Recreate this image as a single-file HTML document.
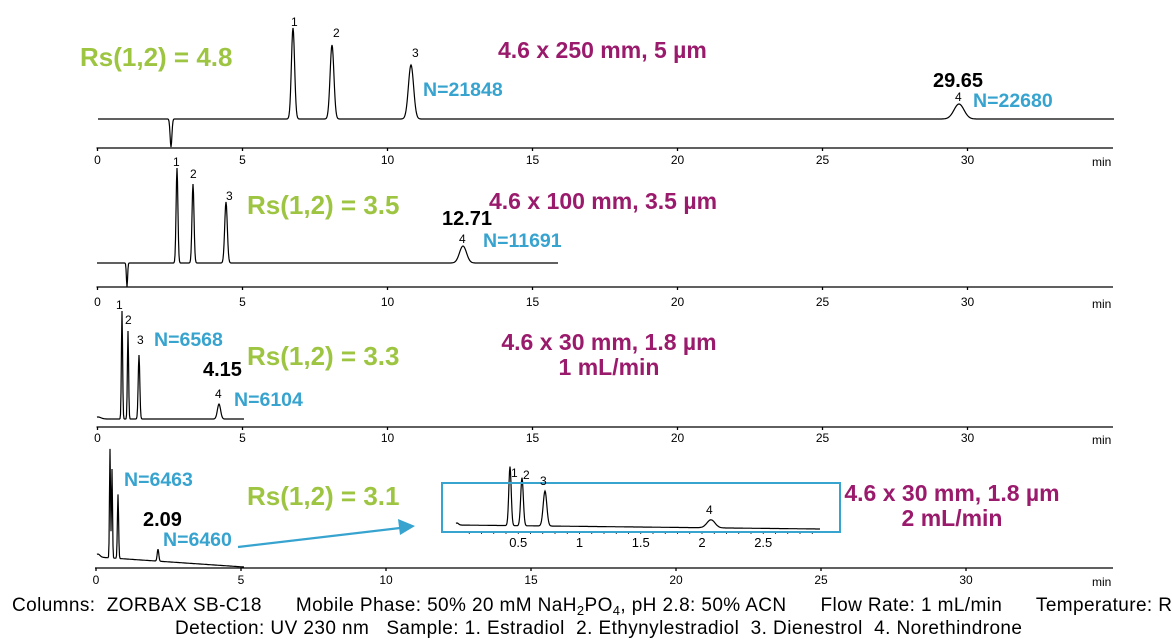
<!DOCTYPE html>
<html><head><meta charset="utf-8"><style>
html,body{margin:0;padding:0;background:#fff;}
svg{display:block;font-family:"Liberation Sans",Arial,sans-serif;}
.g{fill:#9dc542;font-weight:bold;font-size:26px}
.p{fill:#9a1a6c;font-weight:bold;font-size:23px}
.b{fill:#37a3cf;font-weight:bold;font-size:19.5px}
.k{fill:#000;font-weight:bold;font-size:20px}
.s{fill:#000;font-size:12px}
.t{fill:#000;font-size:12px}
.f{fill:#000;font-size:19px;white-space:pre}
</style></head><body>
<svg id="s" width="1172" height="643" viewBox="0 0 1172 643" xmlns="http://www.w3.org/2000/svg">
<g id="traces" fill="none" stroke="#000" stroke-width="1.2"></g>
<g id="axes" stroke="#000" stroke-width="1.3"></g>
<g id="lab"></g>
<text class="g" x="80" y="66">Rs(1,2) = 4.8</text>
<text class="p" x="498" y="58">4.6 x 250 mm, 5 µm</text>
<text class="b" x="423" y="96">N=21848</text>
<text class="k" x="933" y="87">29.65</text>
<text class="s" x="955" y="101">4</text>
<text class="b" x="973" y="107">N=22680</text>
<text class="s" x="291" y="26">1</text>
<text class="s" x="333" y="37">2</text>
<text class="s" x="412" y="57">3</text>

<text class="g" x="247" y="214">Rs(1,2) = 3.5</text>
<text class="p" x="489" y="209">4.6 x 100 mm, 3.5 µm</text>
<text class="k" x="442" y="225">12.71</text>
<text class="s" x="459" y="243">4</text>
<text class="b" x="483" y="247">N=11691</text>
<text class="s" x="173" y="166">1</text>
<text class="s" x="190" y="178">2</text>
<text class="s" x="226" y="200">3</text>

<text class="s" x="116" y="309">1</text>
<text class="s" x="125" y="324">2</text>
<text class="s" x="137" y="344">3</text>
<text class="b" x="154" y="346">N=6568</text>
<text class="g" x="247" y="365">Rs(1,2) = 3.3</text>
<text class="k" x="203" y="376">4.15</text>
<text class="s" x="215" y="398">4</text>
<text class="b" x="234" y="406">N=6104</text>
<text class="p" x="609" y="350" text-anchor="middle">4.6 x 30 mm, 1.8 µm</text>
<text class="p" x="609" y="375" text-anchor="middle">1 mL/min</text>

<text class="b" x="124" y="486">N=6463</text>
<text class="g" x="247" y="505">Rs(1,2) = 3.1</text>
<text class="k" x="143" y="526">2.09</text>
<text class="b" x="163" y="546">N=6460</text>
<text class="p" x="952" y="501" text-anchor="middle">4.6 x 30 mm, 1.8 µm</text>
<text class="p" x="952" y="526" text-anchor="middle">2 mL/min</text>

<rect x="442" y="483" width="398" height="49" fill="none" stroke="#37a3cf" stroke-width="2"/>
<line x1="238" y1="547" x2="400" y2="528" stroke="#37a3cf" stroke-width="2.2"/>
<polygon points="415,526 398,519 400,535" fill="#37a3cf"/>
<text class="t" x="511" y="477">1</text>
<text class="t" x="523" y="479">2</text>
<text class="t" x="540" y="485">3</text>
<text class="t" x="706" y="514">4</text>

<text class="f" x="12" y="611" textLength="1160" lengthAdjust="spacing" xml:space="preserve">Columns:  ZORBAX SB-C18      Mobile Phase: 50% 20 mM NaH<tspan font-size="13" dy="4">2</tspan><tspan dy="-4">PO</tspan><tspan font-size="13" dy="4">4</tspan><tspan dy="-4">, pH 2.8: 50% ACN      Flow Rate: 1 mL/min      Temperature: R</tspan></text>
<text class="f" x="175" y="634" textLength="847" lengthAdjust="spacing" xml:space="preserve">Detection: UV 230 nm   Sample: 1. Estradiol  2. Ethynylestradiol  3. Dienestrol  4. Norethindrone</text>
</svg>
<script>
var NS="http://www.w3.org/2000/svg";
function el(p,n,a,t){var e=document.createElementNS(NS,n);for(var k in a)e.setAttribute(k,a[k]);if(t!=null)e.textContent=t;document.getElementById(p).appendChild(e);return e;}
function trace(x0,x1,b0,b1,peaks){var d="";for(var x=x0;x<=x1;x+=0.5){var y=b0+(b1-b0)*(x-x0)/(x1-x0);for(var i=0;i<peaks.length;i++){var p=peaks[i];y-=p[1]*Math.exp(-Math.pow((x-p[0])/p[2],2)/2);}d+=(d?"L":"M")+x.toFixed(1)+","+y.toFixed(1);}el("traces","path",{d:d});}
trace(98,1114,119,119,[[293,91,1.6],[332,74,1.9],[411,54,2.6],[959,15,5],[171,-28,0.9]]);
trace(97,558,263,263,[[177,95,0.9],[193,79,1.0],[226,61,1.3],[463,17,3.5],[127,-24,0.6]]);
trace(97,244,419,419,[[122,108,0.6],[128,88,0.6],[139,64,0.8],[219,15,1.6],[98,2,3]]);
trace(97,244,557,567,[[110,109,0.5],[112,89,0.5],[118,64,0.6],[158,12,0.8],[98,3,2]]);
trace(456,820,525,529,[[510,59,1.2],[522,48,1.3],[545,35,1.8],[711,8,4],[457,2,1.5]]);
var ax=[[148,160],[287,302],[427,438],[568,580]];
ax.forEach(function(a,i){var x0=i==3?96:97.5;var sc=29;el("axes","line",{x1:x0-1,y1:a[0],x2:1113,y2:a[0]});
for(var m=0;m<=30;m+=5){var x=x0+m*sc;el("axes","line",{x1:x,y1:a[0],x2:x,y2:a[0]+3});el("lab","text",{x:x,y:a[1]+4,"text-anchor":"middle","class":"t"},String(m));}
el("lab","text",{x:1092,y:a[1]+6,"class":"t"},"min");});
for(var v=0.1;v<=2.95;v+=0.1){var x=457+v*122.5;el("axes","line",{x1:x,y1:531,x2:x,y2:534,"stroke-width":0.8});}
[0.5,1,1.5,2,2.5].forEach(function(v){el("lab","text",{x:457+v*122.5,y:547,"text-anchor":"middle","class":"t","style":"font-size:13px"},String(v));});
</script>
</body></html>
